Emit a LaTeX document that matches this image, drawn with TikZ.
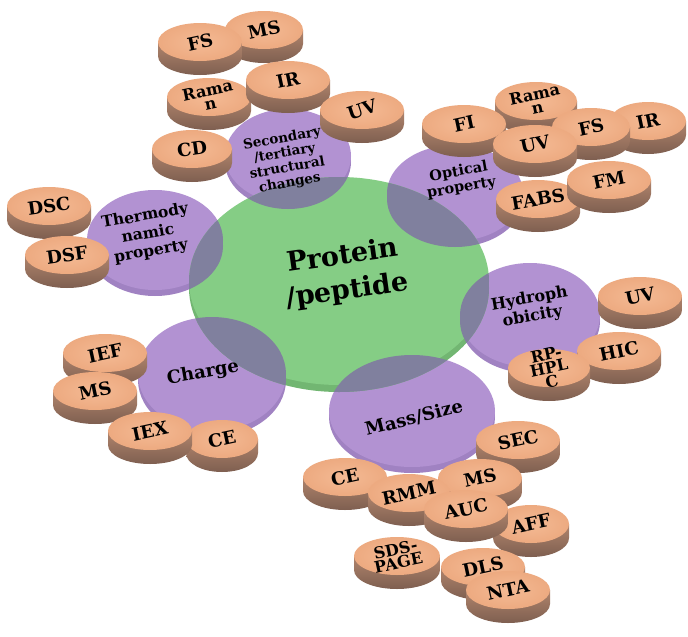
\documentclass[tikz,border=0pt]{standalone}
\usepackage{fontspec}
\setmainfont{DejaVu Serif}
\definecolor{pillhi}{RGB}{244,186,148}
\definecolor{pillmid}{RGB}{236,168,126}
\definecolor{pilledge}{RGB}{212,144,106}
\definecolor{pillsideA}{RGB}{176,132,108}
\definecolor{pillsideB}{RGB}{126,95,80}
\definecolor{purp}{RGB}{178,146,210}
\definecolor{purprim}{RGB}{160,130,194}
\definecolor{grn}{RGB}{133,205,133}
\definecolor{grnrim}{RGB}{114,182,114}
\definecolor{ovl}{RGB}{128,128,158}
\pgfdeclareradialshading{pilltopshade}{\pgfpoint{0bp}{0bp}}{color(0bp)=(pillhi); color(28bp)=(pillmid); color(43bp)=(pillmid); color(50bp)=(pilledge)}
\newcommand\pillfont{\bfseries\fontsize{18}{14}\selectfont}
\tikzset{
  pilltxt/.style={font=\pillfont, align=center, inner sep=0pt},
  smallpill/.style={font=\bfseries\fontsize{16}{14}\selectfont},
  disctxt/.style={align=center, inner sep=0pt, rotate=10},
}
% [angle]{name}{x}{y}{rx}{text}
\newcommand\mypill[6][12]{%
  \shade[top color=pillsideA, bottom color=pillsideB] (#3-#5,#4) -- (#3-#5,#4+14) arc [start angle=180, end angle=0, x radius=#5, y radius=19] -- (#3+#5,#4) -- cycle;
  \shade[shading=pilltopshade] (#3,#4) ellipse [x radius=#5, y radius=19];
  \node[pilltxt, rotate=#1] (#2) at (#3,#4) {#6};
}
% [angle]{name}{x}{y}{rx}{text}  (two/three line label, tighter)
\newcommand\mypilltwo[6][12]{%
  \shade[top color=pillsideA, bottom color=pillsideB] (#3-#5,#4) -- (#3-#5,#4+14) arc [start angle=180, end angle=0, x radius=#5, y radius=19] -- (#3+#5,#4) -- cycle;
  \shade[shading=pilltopshade] (#3,#4) ellipse [x radius=#5, y radius=19];
  \node[pilltxt, smallpill, rotate=#1] (#2) at (#3,#4) {#6};
}
% {x}{y}{rx}{ry}
\newcommand\mydisc[4]{%
  \fill[purprim] (#1,#2+6) ellipse [x radius=#3, y radius=#4];
  \fill[purp] (#1,#2) ellipse [x radius=#3, y radius=#4];
}
\newcommand\myovl[4]{%
  \fill[ovl] (#1,#2+6) ellipse [x radius=#3, y radius=#4] (#1,#2) ellipse [x radius=#3, y radius=#4];
}
\begin{document}
\begin{tikzpicture}[x=1pt, y=-1pt]
\useasboundingbox (0,0) rectangle (688,637);
\fill[white] (0,0) rectangle (688,637);
% purple discs
\mydisc{288}{156}{63}{47}
\mydisc{455}{193}{68}{48}
\mydisc{155}{240}{68}{50}
\mydisc{530}{315}{70}{52}
\mydisc{212}{374}{74}{57}
\mydisc{412}{411}{83}{56}
% green disc
\fill[grnrim] (339,288) ellipse [x radius=150, y radius=104];
\fill[grn] (339,281) ellipse [x radius=150, y radius=104];
\begin{scope}
  \clip (339,288) ellipse [x radius=150, y radius=104] (339,281) ellipse [x radius=150, y radius=104];
  \myovl{288}{156}{63}{47}
  \myovl{455}{193}{68}{48}
  \myovl{155}{240}{68}{50}
  \myovl{530}{315}{70}{52}
  \myovl{212}{374}{74}{57}
  \myovl{412}{411}{83}{56}
\end{scope}
% disc texts
\node[font=\bfseries\fontsize{27}{35}\selectfont, align=center, inner sep=0pt, rotate=8] (prot) at (345,274) {Protein\\/peptide};
\node[disctxt, font=\bfseries\fontsize{13.5}{15}\selectfont] (sec) at (286,161) {Secondary\\/tertiary\\structural\\changes};
\node[disctxt, font=\bfseries\fontsize{14.5}{16}\selectfont] (opt) at (460,180) {Optical\\property};
\node[disctxt, font=\bfseries\fontsize{15.5}{18}\selectfont] (thermo) at (148,234) {Thermody\\namic\\property};
\node[disctxt, font=\bfseries\fontsize{16}{18}\selectfont] (hydro) at (531,308) {Hydroph\\obicity};
\node[disctxt, font=\bfseries\fontsize{18}{20}\selectfont] (charge) at (203,373) {Charge};
\node[disctxt, rotate=4, font=\bfseries\fontsize{18}{20}\selectfont] (mass) at (414,418) {Mass/Size};
% top group
\mypill{msA}{264}{30}{39}{MS}
\mypill{fsA}{200}{42}{42}{FS}
\mypilltwo{ramA}{209}{97}{42}{Rama\\n}
\mypill{irA}{288}{80}{42}{IR}
\mypill[18]{uvA}{362}{110}{42}{UV}
\mypill[8]{cdA}{192}{149}{40}{CD}
% optical group
\mypilltwo{ramB}{536}{101}{41}{Rama\\n}
\mypill{irB}{648}{121}{38}{IR}
\mypill{fiB}{464}{124}{42}{FI}
\mypill{fsB}{591}{127}{39}{FS}
\mypill[10]{fabsB}{538}{199}{42}{FABS}
\mypill{fmB}{609}{180}{42}{FM}
\mypill{uvB}{535}{144}{42}{UV}
% thermo group
\mypill[8]{dsc}{49}{206}{42}{DSC}
\mypill[8]{dsf}{67}{255}{42}{DSF}
% charge group
\mypill{ief}{105}{353}{42}{IEF}
\mypill{msC}{95}{391}{42}{MS}
\mypill{ceC}{222}{439}{36}{CE}
\mypill{iex}{150}{431}{42}{IEX}
% hydro group
\mypill{uvD}{640}{296}{42}{UV}
\mypill{hic}{619}{351}{42}{HIC}
\mypilltwo{rp}{549}{368}{41}{RP-\\HPL\\C}
% mass group
\mypill{sec2}{518}{440}{42}{SEC}
\mypill{ceE}{345}{477}{42}{CE}
\mypill{msE}{480}{478}{42}{MS}
\mypill{rmm}{409}{493}{41}{RMM}
\mypill{aff}{531}{524}{38}{AFF}
\mypill{auc}{466}{509}{42}{AUC}
\mypilltwo{sds}{397}{556}{43}{SDS-\\PAGE}
\mypill{dls}{483}{567}{42}{DLS}
\mypill{nta}{508}{590}{42}{NTA}
\end{tikzpicture}
\end{document}
